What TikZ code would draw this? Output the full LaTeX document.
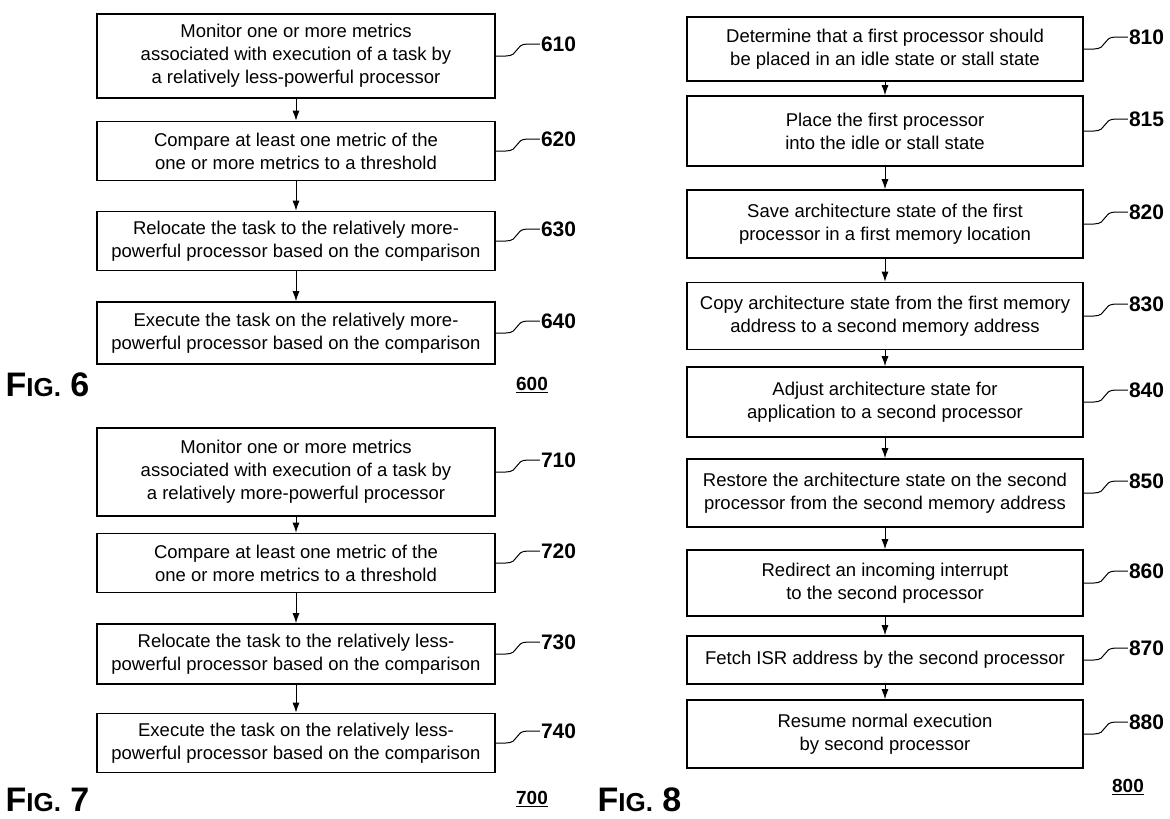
\documentclass[tikz,border=0pt]{standalone}
\usepackage{fontspec}
\setmainfont{Liberation Sans}
\usetikzlibrary{arrows.meta}
\begin{document}
\begin{tikzpicture}[x=1pt,y=-1pt,
  box/.style={draw, line width=1.6pt, minimum width=398pt, align=center, inner sep=2pt,
    font=\fontsize{18.5}{23}\selectfont},
  arr/.style={-{Latex[length=10pt,width=7pt]}, line width=1pt},
  lab/.style={anchor=west, font=\bfseries\fontsize{21}{22}\selectfont},
  fig/.style={anchor=west, font=\bfseries\fontsize{34}{34}\selectfont},
  num/.style={font=\bfseries\fontsize{19}{19}\selectfont}]
\useasboundingbox (0,0) rectangle (1170,819);
\newcommand{\leader}[2]{%
  \draw[line width=1pt] (#1.east) -- ++(10,0) .. controls +(14,0) and +(-14,0) .. ++(22,-12) -- ++(12,0) coordinate (#1L);
  \node[lab, inner sep=1pt] at (#1L) {#2};}
\newcommand{\figlab}[1]{F{\fontsize{26}{26}\selectfont IG.} #1}
% Fig 6
\node[box, minimum height=84pt] (a1) at (296,56) {Monitor one or more metrics\\associated with execution of a task by\\a relatively less-powerful processor};
\node[box, minimum height=59pt] (a2) at (296,151) {Compare at least one metric of the\\one or more metrics to a threshold};
\node[box, minimum height=59pt] (a3) at (296,241) {Relocate the task to the relatively more-\\powerful processor based on the comparison};
\node[box, minimum height=62pt] (a4) at (296,333) {Execute the task on the relatively more-\\powerful processor based on the comparison};
\draw[arr] (a1) -- (a2); \draw[arr] (a2) -- (a3); \draw[arr] (a3) -- (a4);
\leader{a1}{610}\leader{a2}{620}\leader{a3}{630}\leader{a4}{640}
\node[fig] (f6) at (2,385) {\figlab{6}};
\node[num] (n6) at (532,385) {\underline{600}};
% Fig 7
\node[box, minimum height=88pt] (b1) at (296,472) {Monitor one or more metrics\\associated with execution of a task by\\a relatively more-powerful processor};
\node[box, minimum height=59pt] (b2) at (296,563) {Compare at least one metric of the\\one or more metrics to a threshold};
\node[box, minimum height=60pt] (b3) at (296,654) {Relocate the task to the relatively less-\\powerful processor based on the comparison};
\node[box, minimum height=59pt] (b4) at (296,743) {Execute the task on the relatively less-\\powerful processor based on the comparison};
\draw[arr] (b1) -- (b2); \draw[arr] (b2) -- (b3); \draw[arr] (b3) -- (b4);
\leader{b1}{710}\leader{b2}{720}\leader{b3}{730}\leader{b4}{740}
\node[fig] (f7) at (2,800) {\figlab{7}};
\node[num] (n7) at (532,799) {\underline{700}};
% Fig 8
\begin{scope}[box/.append style={minimum width=396pt}]
\node[box, minimum height=64pt] (c1) at (885,49) {Determine that a first processor should\\be placed in an idle state or stall state};
\node[box, minimum height=70pt] (c2) at (885,131) {Place the first processor\\into the idle or stall state};
\node[box, minimum height=68pt] (c3) at (885,224) {Save architecture state of the first\\processor in a first memory location};
\node[box, minimum height=67pt] (c4) at (885,316) {Copy architecture state from the first memory\\address to a second memory address};
\node[box, minimum height=70pt] (c5) at (885,402) {Adjust architecture state for\\application to a second processor};
\node[box, minimum height=68pt] (c6) at (885,493) {Restore the architecture state on the second\\processor from the second memory address};
\node[box, minimum height=66pt] (c7) at (885,583) {Redirect an incoming interrupt\\to the second processor};
\node[box, minimum height=48pt] (c8) at (885,660) {Fetch ISR address by the second processor};
\node[box, minimum height=68pt] (c9) at (885,734) {Resume normal execution\\by second processor};
\end{scope}
\foreach \i/\j in {c1/c2,c2/c3,c3/c4,c4/c5,c5/c6,c6/c7,c7/c8,c8/c9} \draw[arr] (\i) -- (\j);
\leader{c1}{810}\leader{c2}{815}\leader{c3}{820}\leader{c4}{830}\leader{c5}{840}
\leader{c6}{850}\leader{c7}{860}\leader{c8}{870}\leader{c9}{880}
\node[fig] (f8) at (594,800) {\figlab{8}};
\node[num] (n8) at (1128,787) {\underline{800}};
\end{tikzpicture}
\end{document}
